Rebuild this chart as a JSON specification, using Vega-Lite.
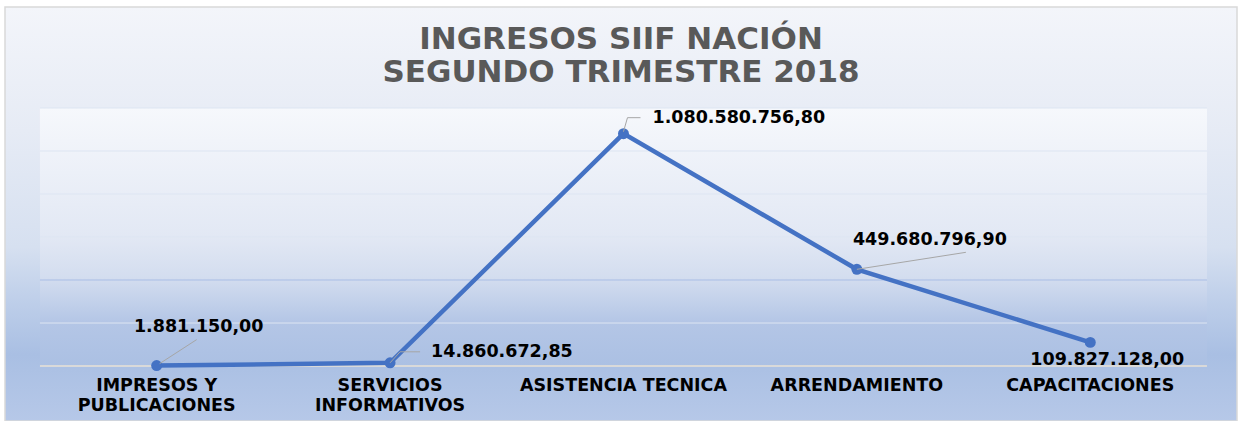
{
  "$schema": "https://vega.github.io/schema/vega-lite/v6.json",
  "width": 1242,
  "height": 421,
  "autosize": {"type": "fit", "contains": "padding"},
  "padding": {"left": 5, "top": 7, "right": 5, "bottom": 0},
  "background": "#ffffff",
  "config": {
    "locale": {"number": {"decimal": ",", "thousands": ".", "grouping": [3], "currency": ["$", ""]}},
    "view": {
      "stroke": "#d9d9d9",
      "strokeWidth": 1.5,
      "fill": {
        "gradient": "linear", "x1": 0, "y1": 0, "x2": 0, "y2": 1,
        "stops": [
          {"offset": 0, "color": "#f3f5fa"},
          {"offset": 0.3, "color": "#e6ebf5"},
          {"offset": 0.58, "color": "#d6e0f0"},
          {"offset": 0.7, "color": "#c0d0ea"},
          {"offset": 0.84, "color": "#a9bfe3"},
          {"offset": 1, "color": "#b6c8e8"}
        ]
      }
    }
  },
  "title": {
    "text": ["INGRESOS SIIF NACIÓN", "SEGUNDO TRIMESTRE 2018"],
    "font": "DejaVu Sans",
    "fontSize": 31,
    "fontWeight": "bold",
    "color": "#595959",
    "lineHeight": 33,
    "anchor": "middle",
    "frame": "group",
    "offset": -82
  },
  "datasets": {
    "ingresos": [
      {"concepto": "IMPRESOS Y PUBLICACIONES", "ingreso": 1881150.00},
      {"concepto": "SERVICIOS INFORMATIVOS", "ingreso": 14860672.85},
      {"concepto": "ASISTENCIA TECNICA", "ingreso": 1080580756.80},
      {"concepto": "ARRENDAMIENTO", "ingreso": 449680796.90},
      {"concepto": "CAPACITACIONES", "ingreso": 109827128.00}
    ]
  },
  "data": {"name": "ingresos"},
  "encoding": {
    "x": {
      "field": "concepto",
      "type": "nominal",
      "sort": null,
      "scale": {
        "domain": ["IMPRESOS Y PUBLICACIONES", "SERVICIOS INFORMATIVOS", "ASISTENCIA TECNICA", "ARRENDAMIENTO", "CAPACITACIONES"],
        "paddingInner": 0,
        "paddingOuter": 0.1392,
        "align": 0.538
      },
      "axis": {
        "orient": "bottom",
        "offset": -55,
        "title": null,
        "domain": false,
        "ticks": false,
        "grid": false,
        "labelAngle": 0,
        "labelFont": "DejaVu Sans",
        "labelFontWeight": "bold",
        "labelFontSize": 17.5,
        "labelColor": "#000000",
        "labelPadding": 10,
        "labelLineHeight": 20,
        "labelBaseline": "top",
        "labelLimit": 400,
        "labelOverlap": false,
        "labelExpr": "datum.value == 'IMPRESOS Y PUBLICACIONES' ? ['IMPRESOS Y', 'PUBLICACIONES'] : datum.value == 'SERVICIOS INFORMATIVOS' ? ['SERVICIOS', 'INFORMATIVOS'] : datum.value"
      }
    },
    "y": {
      "field": "ingreso",
      "type": "quantitative",
      "scale": {"domain": [-255813953, 1669767442], "nice": false, "zero": false},
      "axis": null
    }
  },
  "layer": [
    {
      "mark": {
        "type": "rect",
        "stroke": null,
        "fill": {
          "gradient": "linear", "x1": 0, "y1": 0, "x2": 0, "y2": 1,
          "stops": [
            {"offset": 0, "color": "#f6f8fc"},
            {"offset": 0.5, "color": "#e2e8f4"},
            {"offset": 0.66, "color": "#d3ddef"},
            {"offset": 0.83, "color": "#b4c6e6"},
            {"offset": 1, "color": "#abc0e3"}
          ]
        }
      },
      "encoding": {
        "x": {"datum": "IMPRESOS Y PUBLICACIONES", "type": "nominal", "bandPosition": 0},
        "x2": {"datum": "CAPACITACIONES", "bandPosition": 1},
        "y": {"datum": 0, "type": "quantitative"},
        "y2": {"datum": 1200000000}
      }
    },
    {
      "data": {"values": [{"v": 200000000}, {"v": 400000000}, {"v": 600000000}, {"v": 800000000}, {"v": 1000000000}, {"v": 1200000000}]},
      "mark": {"type": "rule", "strokeWidth": 1},
      "encoding": {
        "x": {"datum": "IMPRESOS Y PUBLICACIONES", "type": "nominal", "bandPosition": 0},
        "x2": {"datum": "CAPACITACIONES", "bandPosition": 1},
        "y": {"field": "v", "type": "quantitative"},
        "stroke": {"condition": {"test": "datum.v == 400000000", "value": "#a9bde5"}, "value": "#dde5f2"}
      }
    },
    {
      "data": {"values": [{"v": 0}]},
      "mark": {"type": "rule", "strokeWidth": 2, "color": "#d9d9d9"},
      "encoding": {
        "x": {"datum": "IMPRESOS Y PUBLICACIONES", "type": "nominal", "bandPosition": 0},
        "x2": {"datum": "CAPACITACIONES", "bandPosition": 1},
        "y": {"field": "v", "type": "quantitative"}
      }
    },
    {
      "mark": {"type": "line", "color": "#4472c4", "strokeWidth": 4.5},
      "encoding": {}
    },
    {
      "mark": {"type": "circle", "color": "#4472c4", "size": 120, "opacity": 1},
      "encoding": {}
    },
    {
      "transform": [{"filter": "datum.concepto == 'IMPRESOS Y PUBLICACIONES'"}],
      "layer": [
        {
          "mark": {"type": "rule", "color": "#a6a6a6", "strokeWidth": 1, "xOffset": 3, "yOffset": -2, "x2Offset": 40, "y2Offset": -26},
          "encoding": {"x2": {"field": "concepto"}, "y2": {"field": "ingreso"}}
        },
        {
          "mark": {"type": "text", "font": "DejaVu Sans", "fontWeight": "bold", "fontSize": 17.5, "color": "#000000", "align": "center", "baseline": "middle", "dx": 42, "dy": -39},
          "encoding": {"text": {"field": "ingreso", "type": "quantitative", "format": ",.2f"}}
        }
      ]
    },
    {
      "transform": [{"filter": "datum.concepto == 'SERVICIOS INFORMATIVOS'"}],
      "layer": [
        {
          "mark": {"type": "rule", "color": "#a6a6a6", "strokeWidth": 1, "xOffset": 0, "yOffset": 0, "x2Offset": 10, "y2Offset": -11},
          "encoding": {"x2": {"field": "concepto"}, "y2": {"field": "ingreso"}}
        },
        {
          "mark": {"type": "rule", "color": "#a6a6a6", "strokeWidth": 1, "xOffset": 10, "yOffset": -11, "x2Offset": 30, "y2Offset": -11},
          "encoding": {"x2": {"field": "concepto"}, "y2": {"field": "ingreso"}}
        },
        {
          "mark": {"type": "text", "font": "DejaVu Sans", "fontWeight": "bold", "fontSize": 17.5, "color": "#000000", "align": "left", "baseline": "middle", "dx": 41, "dy": -11},
          "encoding": {"text": {"field": "ingreso", "type": "quantitative", "format": ",.2f"}}
        }
      ]
    },
    {
      "transform": [{"filter": "datum.concepto == 'ASISTENCIA TECNICA'"}],
      "layer": [
        {
          "mark": {"type": "rule", "color": "#a6a6a6", "strokeWidth": 1, "xOffset": 0, "yOffset": -2, "x2Offset": 4, "y2Offset": -16},
          "encoding": {"x2": {"field": "concepto"}, "y2": {"field": "ingreso"}}
        },
        {
          "mark": {"type": "rule", "color": "#a6a6a6", "strokeWidth": 1, "xOffset": 4, "yOffset": -16, "x2Offset": 17, "y2Offset": -16},
          "encoding": {"x2": {"field": "concepto"}, "y2": {"field": "ingreso"}}
        },
        {
          "mark": {"type": "text", "font": "DejaVu Sans", "fontWeight": "bold", "fontSize": 17.5, "color": "#000000", "align": "left", "baseline": "middle", "dx": 29, "dy": -16},
          "encoding": {"text": {"field": "ingreso", "type": "quantitative", "format": ",.2f"}}
        }
      ]
    },
    {
      "transform": [{"filter": "datum.concepto == 'ARRENDAMIENTO'"}],
      "layer": [
        {
          "mark": {"type": "rule", "color": "#a6a6a6", "strokeWidth": 1, "xOffset": 0, "yOffset": 0, "x2Offset": 109, "y2Offset": -17},
          "encoding": {"x2": {"field": "concepto"}, "y2": {"field": "ingreso"}}
        },
        {
          "mark": {"type": "text", "font": "DejaVu Sans", "fontWeight": "bold", "fontSize": 17.5, "color": "#000000", "align": "center", "baseline": "middle", "dx": 73, "dy": -29},
          "encoding": {"text": {"field": "ingreso", "type": "quantitative", "format": ",.2f"}}
        }
      ]
    },
    {
      "transform": [{"filter": "datum.concepto == 'CAPACITACIONES'"}],
      "mark": {"type": "text", "font": "DejaVu Sans", "fontWeight": "bold", "fontSize": 17.5, "color": "#000000", "align": "center", "baseline": "middle", "dx": 17, "dy": 18},
      "encoding": {"text": {"field": "ingreso", "type": "quantitative", "format": ",.2f"}}
    }
  ]
}
